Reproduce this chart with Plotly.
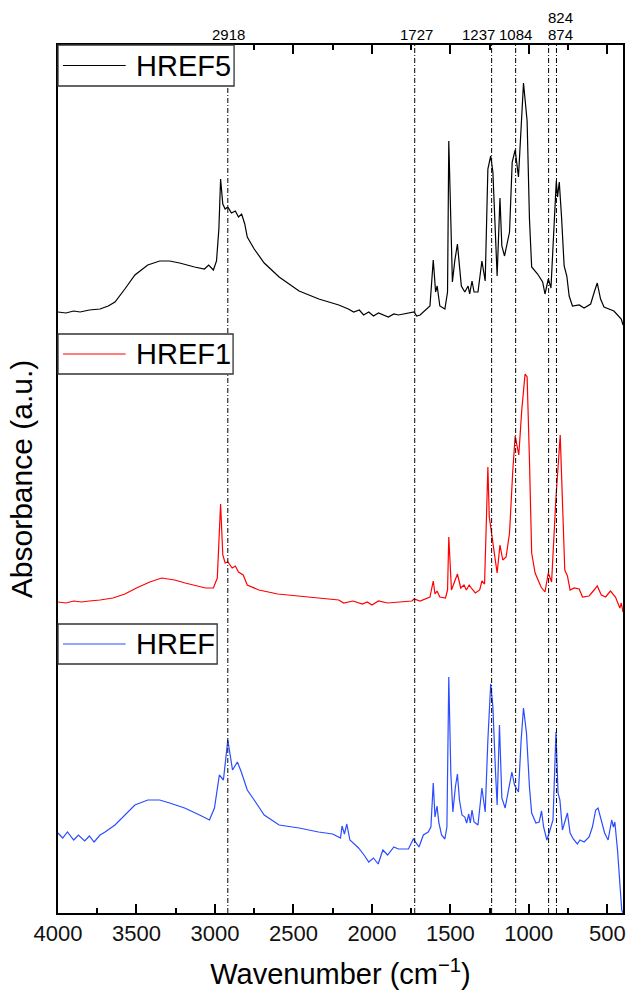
import plotly.graph_objects as go

# ---------------- data ----------------
wn_href5 = [4000, 3950, 3900, 3859, 3800, 3732, 3680, 3637, 3574, 3510, 3428, 3352, 3289, 3225, 3130, 3067, 3040, 3010,
            2990, 2975, 2964, 2950, 2935, 2918, 2895, 2870, 2850, 2830, 2810, 2794, 2750, 2686, 2591, 2464, 2338, 2211,
            2150, 2116, 2080, 2053, 2020, 1990, 1958, 1930, 1895, 1860, 1831, 1731, 1715, 1693, 1630, 1609, 1594, 1584,
            1567, 1535, 1518, 1510, 1487, 1472, 1455, 1430, 1408, 1387, 1377, 1362, 1349, 1324, 1299, 1278, 1261, 1243,
            1229, 1202, 1184, 1172, 1155, 1123, 1106, 1087, 1066, 1034, 1011, 996, 982, 944, 912, 897, 876, 859, 838,
            825, 817, 806, 792, 775, 758, 743, 722, 679, 648, 606, 581, 564, 543, 521, 458, 411, 400]
abs_href5 = [0.17, 0.16, 0.18, 0.17, 0.19, 0.20, 0.23, 0.27, 0.40, 0.54, 0.64, 0.68, 0.68, 0.66, 0.62, 0.60, 0.64, 0.59,
             0.68, 1.00, 1.50, 1.25, 1.20, 1.22, 1.16, 1.18, 1.12, 1.15, 1.05, 0.92, 0.80, 0.66, 0.52, 0.38, 0.30, 0.24,
             0.20, 0.17, 0.19, 0.14, 0.17, 0.13, 0.16, 0.14, 0.12, 0.15, 0.14, 0.17, 0.13, 0.14, 0.23, 0.69, 0.37, 0.43,
             0.23, 0.20, 0.37, 1.88, 0.47, 0.68, 0.85, 0.43, 0.37, 0.43, 0.35, 0.48, 0.37, 0.37, 0.68, 0.48, 1.60, 1.73,
             1.57, 0.53, 1.31, 0.83, 0.73, 0.97, 1.67, 1.79, 1.52, 2.46, 2.08, 1.10, 0.62, 0.55, 0.47, 0.35, 0.50, 0.41,
             1.03, 1.48, 1.32, 1.47, 1.13, 0.63, 0.53, 0.33, 0.23, 0.24, 0.21, 0.25, 0.38, 0.46, 0.30, 0.22, 0.18, 0.10,
             0.04]

wn_href1 = [4000, 3950, 3900, 3850, 3800, 3732, 3650, 3574, 3500, 3415, 3339, 3257, 3190, 3130, 3060, 3010, 2985, 2964,
            2950, 2935, 2918, 2890, 2870, 2850, 2820, 2794, 2720, 2600, 2464, 2300, 2211, 2180, 2120, 2060, 2030, 2000,
            1958, 1900, 1831, 1745, 1731, 1693, 1630, 1609, 1598, 1585, 1567, 1531, 1518, 1510, 1493, 1472, 1455, 1434,
            1413, 1398, 1380, 1362, 1341, 1313, 1299, 1282, 1269, 1261, 1252, 1235, 1218, 1202, 1184, 1166, 1145, 1123,
            1102, 1087, 1064, 1045, 1024, 1011, 996, 982, 960, 922, 897, 876, 855, 828, 800, 786, 771, 754, 737, 711,
            679, 658, 616, 584, 564, 538, 511, 480, 448, 420, 411, 400]
abs_href1 = [0.13, 0.12, 0.14, 0.13, 0.14, 0.15, 0.17, 0.21, 0.27, 0.33, 0.37, 0.35, 0.32, 0.30, 0.27, 0.27, 0.37, 1.11,
             0.60, 0.52, 0.53, 0.47, 0.49, 0.43, 0.40, 0.30, 0.25, 0.21, 0.19, 0.17, 0.15, 0.12, 0.14, 0.11, 0.13, 0.10,
             0.14, 0.12, 0.13, 0.14, 0.16, 0.14, 0.18, 0.34, 0.21, 0.24, 0.18, 0.17, 0.25, 0.78, 0.25, 0.35, 0.41, 0.27,
             0.30, 0.25, 0.30, 0.26, 0.22, 0.25, 0.34, 0.31, 1.02, 1.48, 0.98, 0.78, 0.62, 0.42, 0.70, 0.55, 0.58, 0.82,
             1.45, 1.79, 1.60, 2.05, 2.41, 2.38, 1.55, 0.62, 0.42, 0.28, 0.23, 0.42, 0.33, 1.15, 1.80, 1.22, 0.45, 0.39,
             0.25, 0.27, 0.26, 0.18, 0.19, 0.25, 0.29, 0.20, 0.18, 0.24, 0.18, 0.07, 0.12, 0.03]

wn_href = [4000, 3970, 3940, 3900, 3870, 3830, 3800, 3770, 3732, 3700, 3637, 3574, 3510, 3428, 3352, 3289, 3193, 3098,
           3035, 3003, 2972, 2946, 2918, 2888, 2857, 2832, 2794, 2750, 2686, 2591, 2464, 2340, 2250, 2200, 2190, 2175,
           2160, 2140, 2085, 2050, 2020, 1990, 1960, 1930, 1900, 1860, 1831, 1767, 1736, 1700, 1672, 1641, 1624, 1609,
           1598, 1585, 1573, 1556, 1535, 1522, 1510, 1497, 1484, 1468, 1455, 1442, 1426, 1408, 1396, 1383, 1373, 1362,
           1349, 1324, 1299, 1278, 1261, 1243, 1229, 1212, 1202, 1187, 1172, 1151, 1127, 1108, 1091, 1066, 1049, 1034,
           1015, 996, 982, 955, 934, 919, 906, 885, 865, 846, 827, 814, 802, 786, 771, 754, 737, 717, 691, 674, 648,
           616, 595, 574, 559, 538, 517, 495, 472, 461, 452, 435, 420, 408, 400]
abs_href = [0.80, 0.75, 0.81, 0.73, 0.78, 0.72, 0.77, 0.71, 0.78, 0.81, 0.88, 0.98, 1.08, 1.13, 1.13, 1.10, 1.05, 0.98,
            0.93, 1.05, 1.38, 1.33, 1.73, 1.43, 1.51, 1.41, 1.23, 1.13, 0.98, 0.88, 0.85, 0.81, 0.79, 0.75, 0.87, 0.79,
            0.89, 0.73, 0.65, 0.58, 0.51, 0.55, 0.49, 0.63, 0.58, 0.66, 0.64, 0.64, 0.74, 0.66, 0.78, 0.81, 0.86, 1.30,
            0.96, 1.07, 0.90, 0.78, 0.74, 0.86, 2.36, 1.40, 1.01, 1.26, 1.39, 1.13, 0.98, 0.96, 0.90, 0.99, 0.90, 1.03,
            0.91, 0.88, 1.25, 1.01, 1.73, 2.29, 2.06, 1.40, 1.08, 1.88, 1.15, 1.05, 1.26, 1.41, 1.28, 1.21, 1.73, 2.05,
            1.80, 1.26, 1.00, 0.90, 0.91, 1.02, 0.86, 0.73, 0.83, 0.93, 1.81, 1.20, 1.13, 0.83, 0.91, 1.00, 0.80, 0.74,
            0.69, 0.73, 0.71, 0.76, 0.86, 1.03, 1.05, 0.91, 0.80, 0.73, 0.93, 0.86, 0.91, 0.63, 0.26, 0.03, 0.00]

series_names = ["HREF5", "HREF1", "HREF"]
series_offsets = [5.84, 2.98, 0.0]
series_colors = ["#000000", "#ff0000", "#2b4cff"]

marker_wn = [2918, 1727, 1237, 1084, 874, 824]
marker_labels = ["2918", "1727", "1237", "1084", "874", "824"]

x_ticks = [4000, 3500, 3000, 2500, 2000, 1500, 1000, 500]

# ---------------- figure ----------------
FONT = "Arial, Liberation Sans, Helvetica, sans-serif"
W, H = 630, 994
ML, MR, MT, MB = 58, 4, 45, 81
PW, PH = W - ML - MR, H - MT - MB


def px_x(p):
    return (p - ML) / PW


def px_y(p):
    return (H - MB - p) / PH


fig = go.Figure()
data_x = [wn_href5, wn_href1, wn_href]
data_y = [abs_href5, abs_href1, abs_href]
for name, xs, ys, off, col in zip(series_names, data_x, data_y, series_offsets, series_colors):
    fig.add_trace(go.Scatter(x=xs, y=[v + off for v in ys], mode="lines", name=name,
                             line=dict(color=col, width=1.2), showlegend=False))

shapes = []
annotations = []
# marker lines
for w in marker_wn:
    shapes.append(dict(type="line", xref="x", yref="paper", x0=w, x1=w, y0=0, y1=1,
                       line=dict(color="black", width=1, dash="5px,2px,1px,2px"), layer="above"))

# marker labels (shift to avoid overlapping)
label_shift = {"2918": (1, 0), "1727": (2, 0), "1237": (-13, 0), "1084": (0, 0), "874": (12, 0), "824": (4, 17)}
for w, t in zip(marker_wn, marker_labels):
    dx, dy = label_shift[t]
    annotations.append(dict(x=w, y=1, xref="x", yref="paper", text=t, showarrow=False,
                            xanchor="center", yanchor="bottom", yshift=0 + dy, xshift=dx,
                            font=dict(size=15, color="black", family=FONT)))

# legend boxes (one per spectrum)
legend_boxes = [  # (box px: x1, ytop, ybottom)
    (235, 45, 86),
    (234, 334, 374),
    (218, 624, 664),
]
for name, col, (bx1, by0, by1) in zip(series_names, series_colors, legend_boxes):
    shapes.append(dict(type="rect", xref="paper", yref="paper", x0=0, x1=px_x(bx1), y0=px_y(by1), y1=px_y(by0),
                       fillcolor="white", line=dict(color="#333333", width=1.3), layer="above"))
    ym = (by0 + by1) / 2
    shapes.append(dict(type="line", xref="paper", yref="paper", x0=px_x(63), x1=px_x(126), y0=px_y(ym), y1=px_y(ym),
                       line=dict(color=col, width=1.2), layer="above"))
    annotations.append(dict(x=px_x(134), y=px_y(ym), xref="paper", yref="paper", text=name, showarrow=False,
                            xanchor="left", yanchor="middle", font=dict(size=29, color="black", family=FONT)))

fig.update_layout(
    width=W, height=H,
    margin=dict(l=ML, r=MR, t=MT, b=MB),
    plot_bgcolor="white", paper_bgcolor="white",
    font=dict(family=FONT, color="black"),
    shapes=shapes, annotations=annotations,
    xaxis=dict(range=[4000, 400], tickvals=x_ticks, ticktext=[str(v) for v in x_ticks],
               ticks="inside", ticklen=9, tickwidth=2, tickcolor="black",
               minor=dict(dtick=250, tick0=0, ticks="inside", ticklen=5, tickwidth=2, tickcolor="black"),
               showline=True, linecolor="black", linewidth=2, mirror="ticks",
               showgrid=False, zeroline=False,
               tickfont=dict(size=22, family=FONT, color="#111111"),
               title=dict(text="Wavenumber (cm<sup>−1</sup>)", font=dict(size=29, family=FONT), standoff=18)),
    yaxis=dict(range=[0, 8.68], showticklabels=False, ticks="",
               showline=True, linecolor="black", linewidth=2, mirror=True,
               showgrid=False, zeroline=False,
               title=dict(text="Absorbance (a.u.)", font=dict(size=30, family=FONT), standoff=15)),
)

fig.write_html("out.html")
